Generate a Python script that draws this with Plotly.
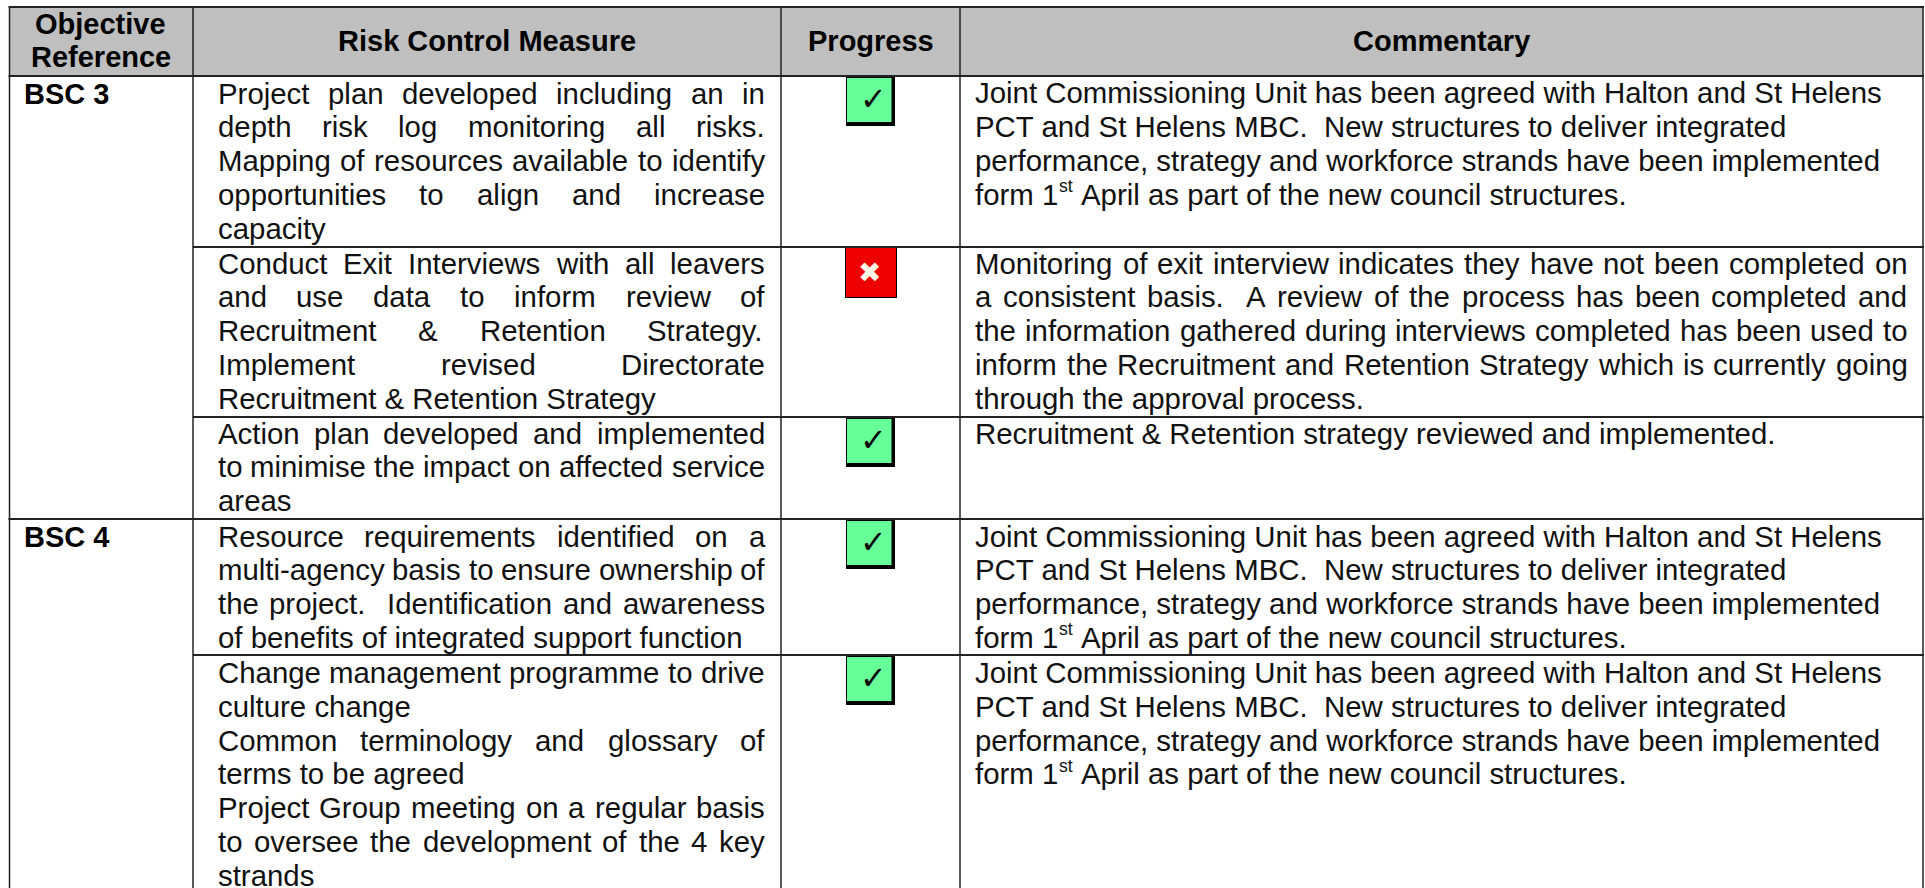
import re
import plotly.graph_objects as go

# ---------- content ----------
HEADERS = [["Objective", "Reference"], ["Risk Control Measure"], ["Progress"], ["Commentary"]]
OBJECTIVES = ["BSC 3", "", "", "BSC 4", ""]
STATUS = ["done", "missed", "done", "done", "done"]

COMMON = [
    "Joint Commissioning Unit has been agreed with Halton and St Helens",
    "PCT and St Helens MBC.  New structures to deliver integrated",
    "performance, strategy and workforce strands have been implemented",
    "form 1^st^ April as part of the new council structures.",
]
MEASURES = [
    ["Project plan developed including an in", "depth risk log monitoring all risks.",
     "Mapping of resources available to identify", "opportunities to align and increase", "capacity"],
    ["Conduct Exit Interviews with all leavers", "and use data to inform review of",
     "Recruitment & Retention Strategy.", "Implement revised Directorate",
     "Recruitment & Retention Strategy"],
    ["Action plan developed and implemented", "to minimise the impact on affected service", "areas"],
    ["Resource requirements identified on a", "multi-agency basis to ensure ownership of",
     "the project.  Identification and awareness", "of benefits of integrated support function"],
    ["Change management programme to drive", "culture change",
     "Common terminology and glossary of", "terms to be agreed",
     "Project Group meeting on a regular basis", "to oversee the development of the 4 key", "strands"],
]
MEASURES_JUSTIFIED = [
    [1, 1, 1, 1, 0], [1, 1, 1, 1, 0], [1, 1, 0], [1, 1, 1, 0], [1, 0, 1, 0, 1, 1, 0],
]
COMMENTS = [
    COMMON,
    ["Monitoring of exit interview indicates they have not been completed on",
     "a consistent basis.  A review of the process has been completed and",
     "the information gathered during interviews completed has been used to",
     "inform the Recruitment and Retention Strategy which is currently going",
     "through the approval process."],
    ["Recruitment & Retention strategy reviewed and implemented."],
    COMMON,
    COMMON,
]
COMMENTS_JUSTIFIED = [[0, 0, 0, 0], [1, 1, 1, 1, 0], [0], [0, 0, 0, 0], [0, 0, 0, 0]]

# ---------- layout constants ----------
W, H = 1925, 888
COL = [9.5, 193, 781, 960, 1923]
ROW = [7, 76, 247, 417, 519, 655, 900]
ROW_BASE = [33.5, 32.5, 32.5, 33.5, 34]
TEXT_L = [24, 217.5, 0, 975.4]
TEXT_R = [0, 765, 0, 1907.5]
FS = 29.4
SUP_FS = 17.6
SUP_RAISE = 14.5
LH = 33.8
FONT = "Liberation Sans"
INK = "#111111"

# Arial advance widths (1/1000 em) used to distribute words in justified lines
AW = {" ": 278, "&": 667, ",": 278, ".": 278, "-": 333, "4": 556, "1": 556}
for chars, w in [("ABEKPSVXY", 667), ("CDHNRU", 722), ("FTZ", 611), ("GOQ", 778), ("I", 278), ("J", 500),
                 ("L", 556), ("M", 833), ("W", 944),
                 ("abdeghnopqu", 556), ("ckvsxyz", 500), ("ftI", 278), ("ijl", 222), ("m", 833), ("r", 333), ("w", 722)]:
    for c in chars:
        AW[c] = w


def width(s, size=FS):
    return sum(AW.get(c, 556) for c in s) * size / 1000


anns, shapes = [], []
LIFT = 40  # anchor higher and shift back down, so lines at the page edge are still drawn


def put(x, y, text, anchor="left", size=FS, bold=False, color=INK, family=FONT, yanchor="bottom"):
    anns.append(dict(x=x, y=y - LIFT, yshift=-LIFT, xref="x", yref="y",
                     text=f"<b>{text}</b>" if bold else text,
                     showarrow=False, xanchor=anchor, yanchor=yanchor, borderpad=0, borderwidth=0,
                     font=dict(family=family, size=size, color=color)))


def put_line(line, justified, left, right, y):
    if not justified:
        if "^" in line:  # ordinal suffix drawn raised and small
            pre, sup, post = line.split("^")
            put(left, y, pre)
            x = left + width(pre)
            put(x, y - SUP_RAISE, sup, size=SUP_FS)
            put(x + width(sup, SUP_FS) + width(" "), y, post.strip())
        else:
            put(left, y, line.replace("  ", " \u00a0"))
        return
    parts = re.split(r"( +)", line)
    words, gaps = parts[0::2], [len(g) for g in parts[1::2]]
    space = (right - left - sum(width(w) for w in words)) / sum(gaps)
    x = left
    for i, word in enumerate(words):
        put(x, y, word)
        x += width(word) + (gaps[i] * space if i < len(gaps) else 0)


def rect(x0, y0, x1, y1, fill):
    shapes.append(dict(type="rect", xref="x", yref="y", x0=x0, y0=y0, x1=x1, y1=y1,
                       fillcolor=fill, line=dict(width=0), layer="below"))


def line(x0, y0, x1, y1, w=1.5, c="#222222"):
    shapes.append(dict(type="line", xref="x", yref="y", x0=x0, y0=y0, x1=x1, y1=y1,
                       line=dict(color=c, width=w), layer="above"))


# header band
rect(COL[0], ROW[0], COL[4], ROW[1], "#BFBFBF")
HEAD_Y = [[40, 73], [57], [57], [57]]
for c, rows in enumerate(HEADERS):
    cx = [100.8, 486.6, 870.5, 1441][c]
    for t, y in zip(rows, HEAD_Y[c]):
        put(cx, y, t, anchor="center", size=29, bold=True, color="#000000")

# body
for r in range(5):
    top = ROW[r + 1]
    base = ROW_BASE[r]
    if OBJECTIVES[r]:
        put(TEXT_L[0], top + base, OBJECTIVES[r], bold=True, size=29, color="#000000")
    for i, (t, j) in enumerate(zip(MEASURES[r], MEASURES_JUSTIFIED[r])):
        put_line(t, j, TEXT_L[1], TEXT_R[1], top + base + i * LH)
    for i, (t, j) in enumerate(zip(COMMENTS[r], COMMENTS_JUSTIFIED[r])):
        put_line(t, j, TEXT_L[3], TEXT_R[3], top + base + i * LH)
    if STATUS[r] == "done":
        rect(846, top + 1, 895, top + 50, "#000000")
        rect(847, top + 2, 891.5, top + 46, "#66FF99")
        put(873, top + 23, "<b>\u2713</b>", anchor="center", size=32, color="#0A0A0A", family="DejaVu Sans", yanchor="middle")
    else:
        rect(845, top, 897, top + 51, "#000000")
        rect(846, top + 1, 896, top + 50, "#EE0000")
        put(869, top + 25, "\u2716", anchor="center", size=28, color="#FFF8E8", family="DejaVu Sans", yanchor="middle")

# rules
line(COL[0] - 1, ROW[0], COL[4] + 1, ROW[0], 2)
line(COL[0] - 1, ROW[1], COL[4] + 1, ROW[1], 2)
line(COL[1], ROW[2], COL[4] + 1, ROW[2], 2)
line(COL[1], ROW[3], COL[4] + 1, ROW[3], 2)
line(COL[0] - 1, ROW[4], COL[4] + 1, ROW[4], 2)
line(COL[1], ROW[5], COL[4] + 1, ROW[5], 2)
for x in COL:
    line(x, ROW[0], x, H, 1.5)

fig = go.Figure()
fig.update_layout(
    width=W, height=H, margin=dict(l=0, r=0, t=0, b=0),
    paper_bgcolor="#FFFFFF", plot_bgcolor="#FFFFFF", showlegend=False,
    xaxis=dict(visible=False, range=[0, W], fixedrange=True),
    yaxis=dict(visible=False, range=[H, 0], fixedrange=True),
    annotations=anns, shapes=shapes,
)
fig.write_html("out.html", config={"displayModeBar": False},
               post_script="document.body.style.margin='0';document.documentElement.style.overflow='hidden';")
